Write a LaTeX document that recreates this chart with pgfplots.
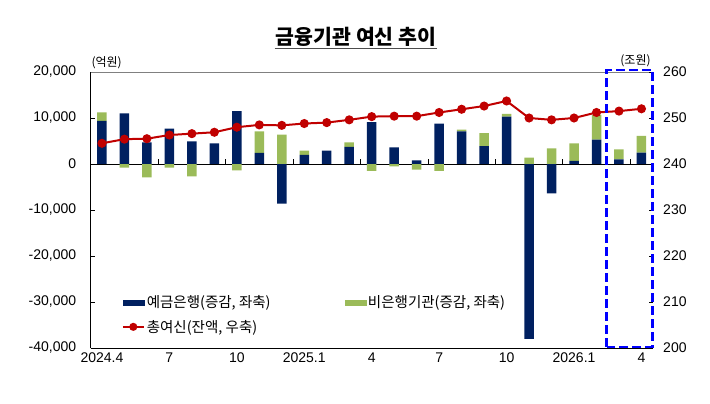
\documentclass[border=0pt]{standalone}
\usepackage{pgfplots}
\pgfplotsset{compat=1.18}
\usepackage{pgfplotstable}
\usepackage{fontspec}
\setmainfont{Liberation Sans}
\newfontfamily\kr{Noto Sans CJK KR}
\definecolor{navy}{HTML}{002060}
\definecolor{grn}{HTML}{9BBB59}
\definecolor{rd}{HTML}{C00000}

\pgfplotstableread{
x np gp nn gn
0 9400 1800 0 0
1 11000 0 0 -800
2 4700 0 0 -2900
3 7700 0 0 -800
4 4900 0 0 -2700
5 4500 0 0 0
6 11500 0 0 -1400
7 2400 4700 0 0
8 0 6400 -8600 0
9 2000 900 0 0
10 2900 0 0 0
11 3700 1000 0 0
12 9100 0 0 -1500
13 3600 0 0 -500
14 800 0 0 -1200
15 8800 0 0 -1500
16 7100 400 0 0
17 3900 2800 0 0
18 10300 600 0 0
19 0 1400 -38000 0
20 0 3400 -6400 0
21 700 3800 0 0
22 5300 5400 0 0
23 1000 2200 0 0
24 2500 3600 0 0
}\bars

\pgfplotstableread{
x y
0 244.5
1 245.4
2 245.5
3 246.3
4 246.6
5 246.9
6 248.0
7 248.5
8 248.4
9 248.8
10 249.0
11 249.6
12 250.3
13 250.4
14 250.4
15 251.2
16 251.9
17 252.6
18 253.7
19 250.0
20 249.6
21 250.0
22 251.2
23 251.5
24 252.0
}\total

\begin{document}
\begin{tikzpicture}
\useasboundingbox (0,0) rectangle (710bp,404bp);
\pgfplotsset{base/.style={scale only axis, width=562bp, height=276bp,
  xmin=-0.5, xmax=24.5, at={(90.7bp,56bp)}, anchor=south west,
  ticklabel style={font=\fontsize{14bp}{16bp}\selectfont},
  /pgf/number format/assume math mode=true}}

\begin{axis}[base, ybar stacked, bar width=9.5bp,
  ymin=-40000, ymax=20000, ytick={-40000,-30000,...,20000},
  scaled y ticks=false,
  y tick label style={/pgf/number format/fixed, /pgf/number format/1000 sep={,}, xshift=-11bp},
  axis x line*=bottom, axis y line*=left,
  axis line style={black, line width=0.8bp, -},
  xtick={0,3,...,24},
  xticklabels={2024.4,7,10,2025.1,4,7,10,2026.1,4},
  xtick style={draw=none},
  ytick style={black, line width=0.6bp},
  tick align=inside, major tick length=4bp,
  x tick label style={yshift=-1bp}]
\addplot[fill=navy, draw=none] table[x=x,y=np]{\bars};
\addplot[fill=grn, draw=none] table[x=x,y=gp]{\bars};
\draw[gray, line width=0.8bp] (rel axis cs:0,1) -- (rel axis cs:1,1);
\end{axis}

\begin{axis}[base, ybar stacked, bar width=9.5bp,
  ymin=-40000, ymax=20000, hide axis]
\addplot[fill=navy, draw=none] table[x=x,y=nn]{\bars};
\addplot[fill=grn, draw=none] table[x=x,y=gn]{\bars};
\draw[black, line width=0.8bp] (axis cs:-0.5,0) -- (axis cs:24.5,0);
\pgfplotsinvokeforeach{2.5,5.5,8.5,11.5,14.5,17.5,20.5,23.5}{
  \draw[black, line width=0.6bp] (axis cs:#1,0) -- ([yshift=5bp]axis cs:#1,0);
}
\end{axis}

\begin{axis}[base, ymin=200, ymax=260, ytick={200,210,...,260},
  axis y line*=right, axis x line=none,
  y axis line style={draw=none},
  ytick style={black, line width=0.6bp},
  tick align=inside, major tick length=4bp,
  y tick label style={xshift=7bp},
  clip=false,
  legend columns=2,
  legend style={draw=none, fill=none, at={(0.055,0.198)}, anchor=north west,
    font=\kr\fontsize{14.5bp}{16bp}\selectfont,
    /tikz/every even column/.append style={column sep=72bp},
    row sep=7bp, inner sep=0pt, cells={anchor=west}}]
\addlegendimage{legend image code/.code={\fill[navy] (0bp,-2.5bp) rectangle (21bp,2.5bp);}}
\addlegendentry{예금은행(증감, 좌축)}
\addlegendimage{legend image code/.code={\fill[grn] (0bp,-2.5bp) rectangle (21bp,2.5bp);}}
\addlegendentry{비은행기관(증감, 좌축)}
\addplot[rd, line width=2bp, mark=*, mark size=3.5bp, mark options={fill=rd, draw=rd},
  legend image code/.code={\draw[rd, line width=2bp, mark=*, mark size=3bp, mark options={fill=rd, draw=rd}, mark repeat=2, mark phase=2] plot coordinates {(0bp,0bp) (10.5bp,0bp) (21bp,0bp)};}]
  table[x=x,y=y]{\total};
\addlegendentry{총여신(잔액, 우축)}
\draw[blue, line width=2.5bp, dash pattern=on 9bp off 4bp]
  (rel axis cs:0.918,0.004) rectangle (rel axis cs:1.0,1.007);
\end{axis}

\node[font=\kr\bfseries\fontsize{20.5bp}{22bp}\selectfont, inner sep=1bp] (T) at (356bp,367bp) {금융기관 여신 추이};
\draw[line width=1.2bp, black!70] ([yshift=-1bp]T.south west) -- ([yshift=-1bp]T.south east);
\node[font=\kr\fontsize{12bp}{14bp}\selectfont] at (106.7bp,341bp) {(억원)};
\node[font=\kr\fontsize{12bp}{14bp}\selectfont] at (635.5bp,343bp) {(조원)};
\end{tikzpicture}
\end{document}
